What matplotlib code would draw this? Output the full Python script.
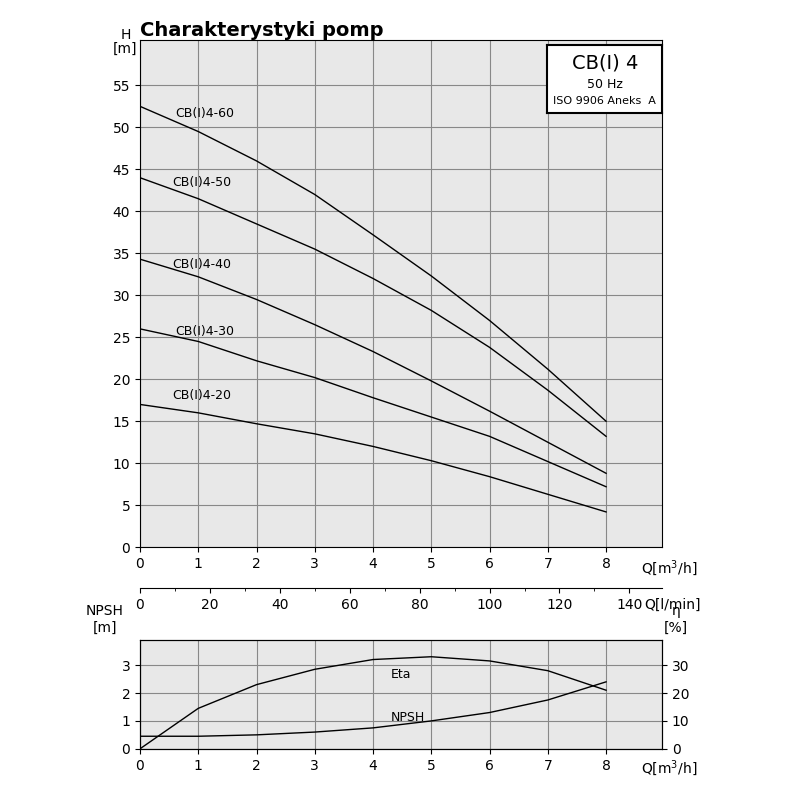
import numpy as np
import matplotlib.pyplot as plt

q = [0, 1, 2, 3, 4, 5, 6, 7, 8]
pumps = ["CB(I)4-60", "CB(I)4-50", "CB(I)4-40", "CB(I)4-30", "CB(I)4-20"]
heads = [
    [52.5, 49.5, 46.0, 42.0, 37.2, 32.3, 27.0, 21.2, 15.0],
    [44.0, 41.5, 38.5, 35.5, 32.0, 28.2, 23.8, 18.7, 13.2],
    [34.3, 32.2, 29.5, 26.5, 23.3, 19.8, 16.2, 12.5, 8.8],
    [26.0, 24.5, 22.2, 20.2, 17.8, 15.5, 13.2, 10.2, 7.2],
    [17.0, 16.0, 14.7, 13.5, 12.0, 10.3, 8.4, 6.3, 4.2],
]
label_pos = [(0.6, 51.2), (0.55, 43.0), (0.55, 33.2), (0.6, 25.3), (0.55, 17.7)]
eta = [0, 14.5, 23, 28.5, 32, 33, 31.5, 28, 21]
npsh = [0.45, 0.45, 0.5, 0.6, 0.75, 1.0, 1.3, 1.75, 2.4]

bg = "#e8e8e8"
xmax = 8.96
fig = plt.figure(figsize=(8, 8), dpi=100)

# main H(Q) chart
ax = fig.add_axes([0.175, 0.316, 0.6525, 0.634])
ax.set_facecolor(bg)
for name, h, (lx, ly) in zip(pumps, heads, label_pos):
    ax.plot(q, h, color="black", lw=1)
    ax.text(lx, ly, name, fontsize=9)
ax.set_xlim(0, xmax)
ax.set_ylim(0, 60.4)
ax.set_xticks(range(9))
ax.set_yticks(range(0, 60, 5))
ax.grid(True, color="#888888", lw=0.8)
ax.tick_params(labelsize=10, direction="out")
ax.text(-0.25, 58.5, "H\n[m]", fontsize=10, ha="center", va="bottom", linespacing=1.0)
ax.text(8.6, -2.5, "Q[m$^3$/h]", fontsize=10, va="center")
fig.text(0.175, 0.962, "Charakterystyki pomp", fontsize=14, fontweight="bold", va="center")

# model box
box = fig.add_axes([0.684, 0.859, 0.144, 0.085])
box.set_xticks([]); box.set_yticks([])
box.set_facecolor("white")
for s in box.spines.values():
    s.set_linewidth(1.5)
box.text(0.5, 0.73, "CB(I) 4", fontsize=14, ha="center", va="center", transform=box.transAxes)
box.text(0.5, 0.42, "50 Hz", fontsize=9, ha="center", va="center", transform=box.transAxes)
box.text(0.5, 0.17, "ISO 9906 Aneks  A", fontsize=8, ha="center", va="center", transform=box.transAxes)

# l/min scale
ax2 = fig.add_axes([0.175, 0.265, 0.6525, 0.001])
ax2.set_xlim(0, xmax * 1000 / 60)
for s in ["top", "left", "right"]:
    ax2.spines[s].set_visible(False)
ax2.set_yticks([])
ax2.set_xticks(range(0, 141, 20))
ax2.set_xticks(range(0, 150, 10), minor=True)
ax2.tick_params(labelsize=10)
fig.text(0.805, 0.244, "Q[l/min]", fontsize=10, va="center", ha="left")

# NPSH / efficiency chart
ax3 = fig.add_axes([0.175, 0.064, 0.6525, 0.136])
ax3.set_facecolor(bg)
ax3.plot(q, npsh, color="black", lw=1)
ax3.set_xlim(0, xmax)
ax3.set_ylim(0, 3.9)
ax3.set_xticks(range(9))
ax3.set_yticks(range(4))
ax3.grid(True, color="#888888", lw=0.8)
ax3.tick_params(labelsize=10)
ax3.text(4.3, 1.0, "NPSH", fontsize=9)
ax3.text(-0.6, 4.1, "NPSH\n[m]", fontsize=10, ha="center", va="bottom", linespacing=1.2)
ax3.text(8.6, -0.7, "Q[m$^3$/h]", fontsize=10, va="center")
ax4 = ax3.twinx()
ax4.plot(q, eta, color="black", lw=1)
ax4.set_ylim(0, 39)
ax4.set_yticks(range(0, 31, 10))
ax4.tick_params(labelsize=10)
ax4.text(4.3, 25.5, "Eta", fontsize=9)
ax4.text(9.2, 41, "η\n[%]", fontsize=10, ha="center", va="bottom", linespacing=1.2)

fig.savefig("out.png", dpi=100)
